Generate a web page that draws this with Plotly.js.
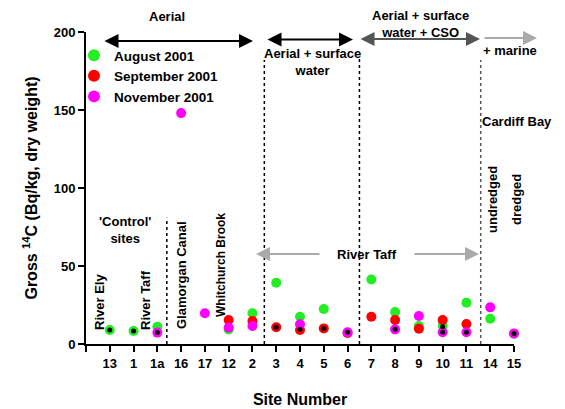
<!DOCTYPE html>
<html>
<head>
<meta charset="utf-8">
<script src="https://cdn.plot.ly/plotly-3.0.1.min.js"></script>
<style>html,body{margin:0;padding:0;background:#fff;}#chart{width:565px;height:409px;}</style>
</head>
<body>
<div id="chart"></div>
<script>
// ---- data ----
const categories = ['13','1','1a','16','17','12','2','3','4','5','6','7','8','9','10','11','14','15'];
const august2001    = [9.0, 8.3, 11.1, null, null, 9.4, 19.7, 39.3, 17.5, 22.4, null, 41.4, 20.5, 11.5, 11.5, 26.5, 16.2, 6.5];
const september2001 = [null, null, null, null, null, 15.4, 14.7, 10.7, 9.0, 10.0, 7.1, 17.5, 15.4, 9.8, 15.4, 12.8, null, null];
const november2001  = [null, null, 7.3, 148, 19.7, 10.5, 11.5, null, 12.6, null, 7.5, null, 9.4, 17.9, 7.5, 7.5, 23.5, 6.8];
const blackSites = ['13','1','1a','3','4','5','6','8','10','10','11','15'];
const blackValues = [9.0, 8.3, 7.3, 10.7, 9.5, 10.0, 7.6, 9.4, 11.0, 7.5, 7.5, 6.8];
const seriesNames = ['August 2001','September 2001','November 2001'];

// ---- layout helpers ----
const FONT = 'Arial, "Liberation Sans", sans-serif';
const L = 86, T = 32, W = 428, H = 312;
const px = x => (x - L) / W;
const py = y => (T + H - y) / H;
const idx = categories.map((c, i) => i);

function series(vals, name, color) {
  return {
    type: 'scatter', mode: 'markers', name: name,
    x: idx, y: vals, cliponaxis: false,
    marker: {color: color, size: 10, line: {width: 0}}
  };
}
const traces = [
  series(august2001, seriesNames[0], '#22EE22'),
  series(september2001, seriesNames[1], '#FF0000'),
  series(november2001, seriesNames[2], '#FF00FF'),
  {
    type: 'scatter', mode: 'markers', showlegend: false, cliponaxis: false,
    x: blackSites.map(s => categories.indexOf(s)), y: blackValues,
    marker: {color: '#000', size: 5}
  }
];

function label(text, x, y, size, angle) {
  return {xref: 'paper', yref: 'paper', x: px(x), y: py(y), text: text, showarrow: false,
    textangle: angle || 0, xanchor: 'center', yanchor: 'middle',
    font: {family: FONT, size: size || 13, weight: 'bold', color: '#000'}};
}
function arrow(hx, hy, tailDx, color, both) {
  return {xref: 'paper', yref: 'paper', x: px(hx), y: py(hy), ax: tailDx, ay: 0,
    text: '', showarrow: true, arrowhead: 2, startarrowhead: 2,
    arrowside: both ? 'end+start' : 'end', arrowsize: 1.4, startarrowsize: 1.4,
    arrowwidth: 2, arrowcolor: color, standoff: 0, startstandoff: 0};
}

const annotations = [
  label('Aerial', 167, 17),
  label('Aerial + surface<br>water', 312, 62),
  label('Aerial + surface<br>water + CSO', 420, 24),
  label('+ marine', 510, 50),
  label('Cardiff Bay', 517, 122),
  label("'Control'<br>sites", 125, 230),
  label('River Ely', 99, 302, 13, -90),
  label('River Taff', 145, 300, 13, -90),
  label('Glamorgan Canal', 181, 275, 13, -90),
  label('Whitchurch Brook', 221, 265, 12, -90),
  label('undredged', 492, 200, 13, -90),
  label('dredged', 516, 200, 13, -90),
  label('River Taff', 367, 254),
  arrow(253, 41, -150, '#000', true),
  arrow(353, 39.5, -87, '#000', true),
  arrow(480, 39, -121, '#555', true),
  arrow(537, 38, -54, '#AAAAAA', false),
  arrow(256, 254, 65, '#AAAAAA', false),
  arrow(479, 254, -66, '#AAAAAA', false)
];

function vline(x, top, color) {
  return {type: 'line', xref: 'x', yref: 'y', x0: x, x1: x, y0: 0, y1: top,
    line: {color: color, width: 1.5, dash: 'dot'}};
}
const shapes = [vline(2.4, 81, '#000'), vline(6.5, 182, '#000'), vline(10.5, 183, '#000'), vline(15.6, 182, '#555')];

const layout = {
  width: 565, height: 409,
  margin: {l: L, r: 565 - L - W, t: T, b: 409 - T - H},
  paper_bgcolor: '#fff', plot_bgcolor: '#fff',
  font: {family: FONT, color: '#000', weight: 'bold'},
  showlegend: true,
  legend: {x: px(74), y: py(40), xanchor: 'left', yanchor: 'top', bgcolor: 'rgba(0,0,0,0)',
    font: {family: FONT, size: 13.5, weight: 'bold'}, itemsizing: 'constant', tracegroupgap: 0},
  xaxis: {
    range: [-1, 17], tickmode: 'array', tickvals: [-1].concat(idx), ticktext: [''].concat(categories),
    showline: true, linecolor: '#000', linewidth: 2, ticks: 'outside', ticklen: 6, tickwidth: 2, tickcolor: '#000',
    showgrid: false, zeroline: false,
    tickfont: {family: FONT, size: 13, weight: 'bold'},
    title: {text: 'Site Number', font: {family: FONT, size: 16, weight: 'bold'}, standoff: 24}
  },
  yaxis: {
    range: [0, 200], tickmode: 'linear', tick0: 0, dtick: 50,
    showline: true, linecolor: '#000', linewidth: 2, ticks: 'outside', ticklen: 6, tickwidth: 2, tickcolor: '#000',
    showgrid: false, zeroline: false,
    tickfont: {family: FONT, size: 13, weight: 'bold'},
    title: {text: 'Gross <sup>14</sup>C (Bq/kg, dry weight)', font: {family: FONT, size: 16, weight: 'bold'}, standoff: 12}
  },
  annotations: annotations,
  shapes: shapes
};

Plotly.newPlot('chart', traces, layout, {displayModeBar: false, staticPlot: true});
</script>
</body>
</html>
